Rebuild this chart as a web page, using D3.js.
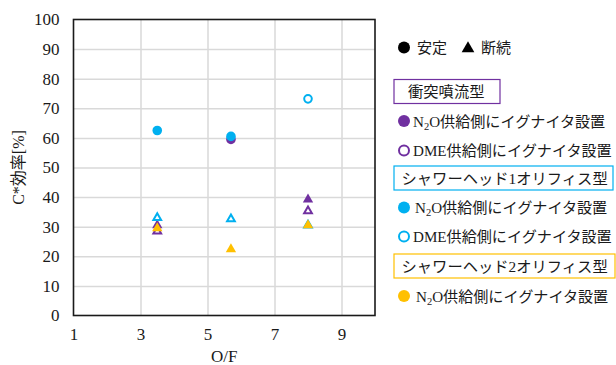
<!DOCTYPE html>
<html>
<head>
<meta charset="utf-8">
<script src="https://cdn.jsdelivr.net/npm/d3@7/dist/d3.min.js"></script>
<style>
  html, body { margin: 0; padding: 0; background: #fff; }
  svg { display: block; }
  text { font-family: "Liberation Serif", "Noto Sans CJK JP", serif; fill: #1a1a1a; }
</style>
</head>
<body>
<svg id="chart" width="616" height="365"></svg>
<script>
// ---- data: [O/F, C* efficiency %, combustion mode] ----
const xTickValues = [1, 3, 5, 7, 9];
const yTickValues = [0, 10, 20, 30, 40, 50, 60, 70, 80, 90, 100];

const impingingN2O = [[3.5, 30.5, "断続"], [5.7, 59.5, "安定"], [8.0, 39.2, "断続"]];
const impingingDME = [[3.5, 28.5, "断続"], [8.0, 35.3, "断続"]];
const shower1N2O   = [[3.5, 62.5, "安定"], [5.7, 60.5, "安定"]];
const shower1DME   = [[3.5, 33.0, "断続"], [5.7, 32.6, "断続"], [8.0, 30.5, "断続"], [8.0, 73.2, "安定"]];
const shower2N2O   = [[3.5, 29.5, "断続"], [5.7, 22.4, "断続"], [8.0, 30.5, "断続"]];

const groupTitles = ["衝突噴流型", "シャワーヘッド1オリフィス型", "シャワーヘッド2オリフィス型"];
const seriesLabels = ["N2O供給側にイグナイタ設置", "DME供給側にイグナイタ設置"];

const PURPLE = "#7030A0", CYAN = "#00B0F0", YELLOW = "#FFC000";

const series = [
  { data: impingingN2O, color: PURPLE, filled: true },
  { data: impingingDME, color: PURPLE, filled: false },
  { data: shower1N2O,   color: CYAN,   filled: true },
  { data: shower1DME,   color: CYAN,   filled: false },
  { data: shower2N2O,   color: YELLOW, filled: true }
];

// ---- layout ----
const plot = { left: 73.5, right: 375, top: 19.5, bottom: 315.5 };
const svg = d3.select("#chart");

const x = d3.scaleLinear().domain([1, 10]).range([plot.left, plot.right]);
const y = d3.scaleLinear().domain([0, 100]).range([plot.bottom, plot.top]);

// gridlines
const grid = svg.append("g");
grid.append("g")
  .attr("transform", `translate(${plot.left},0)`)
  .call(d3.axisLeft(y).tickValues(yTickValues.slice(1, -1)).tickSize(-(plot.right - plot.left)).tickFormat(""))
  .call(g => g.select(".domain").remove())
  .call(g => g.selectAll("line").attr("stroke", "#d9d9d9").attr("stroke-width", 1.5));
grid.append("g")
  .attr("transform", `translate(0,${plot.bottom})`)
  .call(d3.axisBottom(x).tickValues(xTickValues.slice(1)).tickSize(-(plot.bottom - plot.top)).tickFormat(""))
  .call(g => g.select(".domain").remove())
  .call(g => g.selectAll("line").attr("stroke", "#d9d9d9").attr("stroke-width", 1.5));

// plot frame
svg.append("rect")
  .attr("x", plot.left).attr("y", plot.top)
  .attr("width", plot.right - plot.left).attr("height", plot.bottom - plot.top)
  .attr("fill", "none").attr("stroke", "#1a1a1a").attr("stroke-width", 1.6);

// tick labels
const yAxis = svg.append("g")
  .attr("transform", `translate(${plot.left},0)`)
  .call(d3.axisLeft(y).tickValues(yTickValues).tickSize(0).tickPadding(14))
  .call(g => g.select(".domain").remove());
yAxis.selectAll("text").attr("font-size", 17).attr("font-family", "Liberation Serif").attr("fill", "#1a1a1a");

const xAxis = svg.append("g")
  .attr("transform", `translate(0,${plot.bottom})`)
  .call(d3.axisBottom(x).tickValues(xTickValues).tickSize(0).tickPadding(12))
  .call(g => g.select(".domain").remove());
xAxis.selectAll("text").attr("font-size", 17).attr("font-family", "Liberation Serif").attr("fill", "#1a1a1a");

// axis titles
svg.append("text")
  .attr("x", (plot.left + plot.right) / 2).attr("y", 362)
  .attr("text-anchor", "middle").attr("font-size", 17).text("O/F");
svg.append("text")
  .attr("transform", `translate(24,${(plot.top + plot.bottom) / 2}) rotate(-90)`)
  .attr("text-anchor", "middle").attr("font-size", 16).text("C*効率[%]");

// markers
const marks = svg.append("g");
series.forEach(s => {
  s.data.forEach(([of, val, mode]) => {
    const fill = s.filled ? s.color : "#fff";
    const sw = s.filled ? 0 : 2;
    if (mode === "安定") {
      marks.append("circle")
        .attr("cx", x(of)).attr("cy", y(val))
        .attr("r", s.filled ? 4.8 : 3.8)
        .attr("fill", fill).attr("stroke", s.color).attr("stroke-width", sw);
    } else {
      marks.append("path")
        .attr("d", d3.symbol().type(d3.symbolTriangle).size(s.filled ? 46 : 26)())
        .attr("transform", `translate(${x(of)},${y(val)})`)
        .attr("fill", fill).attr("stroke", s.color).attr("stroke-width", sw)
        .attr("stroke-linejoin", "miter");
    }
  });
});

// ---- legend ----
const lg = svg.append("g");
const TITLE_FS = 15.3;
const ROW_FS = 15.1;

// mode key
lg.append("circle").attr("cx", 404).attr("cy", 47.5).attr("r", 6).attr("fill", "#000");
lg.append("text").attr("x", 417).attr("y", 53).attr("font-size", 15).text("安定");
lg.append("path").attr("d", d3.symbol().type(d3.symbolTriangle).size(70)())
  .attr("transform", "translate(468,48.5)").attr("fill", "#000");
lg.append("text").attr("x", 481).attr("y", 53).attr("font-size", 15).text("断続");

function groupBox(y0, w, color, label, tx) {
  lg.append("rect").attr("x", 394).attr("y", y0).attr("width", w).attr("height", 24)
    .attr("fill", "#fff").attr("stroke", color).attr("stroke-width", 1.2);
  lg.append("text").attr("x", tx).attr("y", y0 + 17.5).attr("font-size", TITLE_FS).text(label);
}

function seriesRow(cy, color, filled, label, tx) {
  lg.append("circle").attr("cx", 404).attr("cy", cy).attr("r", filled ? 6 : 5)
    .attr("fill", filled ? color : "#fff").attr("stroke", color).attr("stroke-width", filled ? 0 : 2);
  const t = lg.append("text").attr("x", tx).attr("y", cy + 5.5).attr("font-size", ROW_FS);
  if (label.startsWith("N2O")) {
    t.append("tspan").text("N");
    t.append("tspan").attr("font-size", 10.5).attr("dy", 3).text("2");
    t.append("tspan").attr("dy", -3).text(label.slice(2));
  } else {
    t.text(label);
  }
}

groupBox(79.5, 106, PURPLE, groupTitles[0], 408);
seriesRow(121, PURPLE, true, seriesLabels[0], 413);
seriesRow(150.5, PURPLE, false, seriesLabels[1], 413);
groupBox(166, 219, CYAN, groupTitles[1], 401.5);
seriesRow(207.5, CYAN, true, seriesLabels[0], 415);
seriesRow(236.5, CYAN, false, seriesLabels[1], 413);
groupBox(254, 221, YELLOW, groupTitles[2], 401.5);
seriesRow(296, YELLOW, true, seriesLabels[0], 416);
</script>
</body>
</html>
